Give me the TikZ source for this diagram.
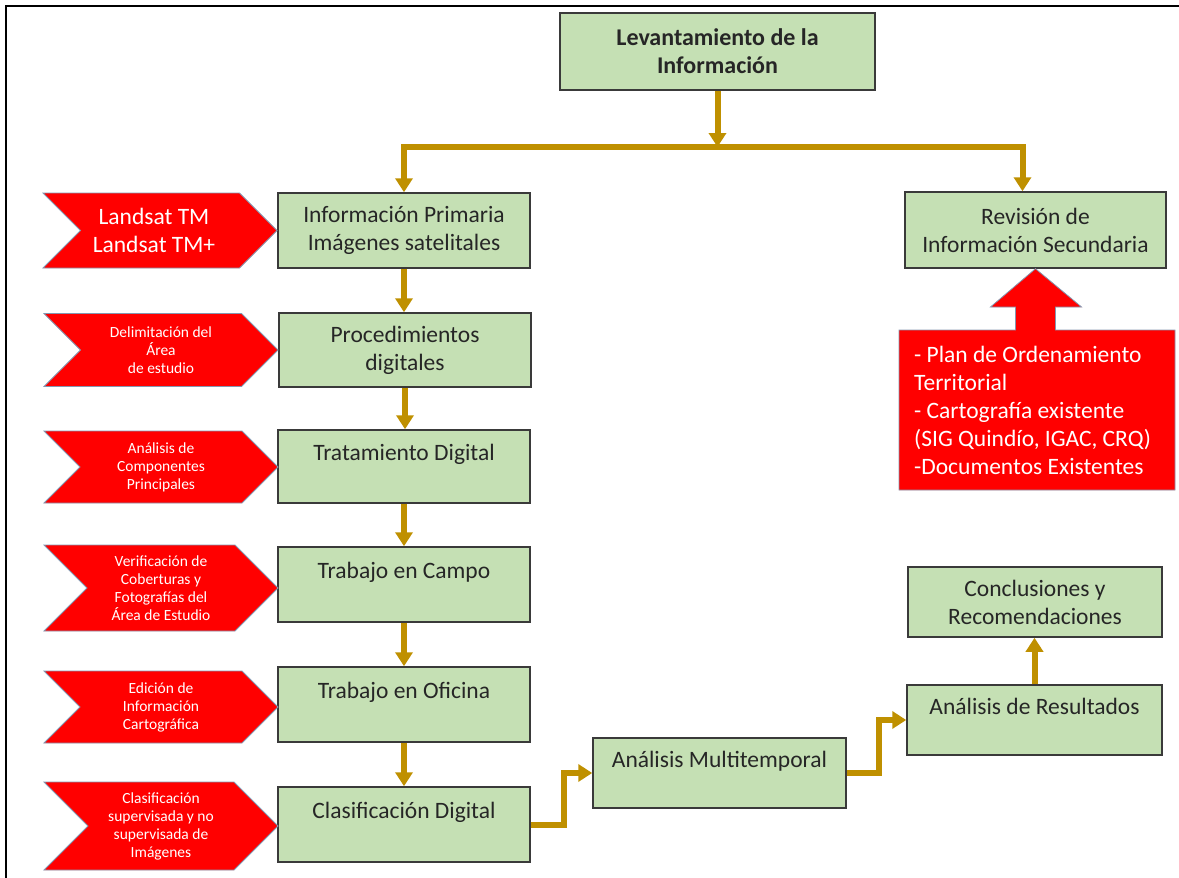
\documentclass[tikz,border=0pt]{standalone}
\usepackage{fontspec}
\setmainfont{Carlito}
\usetikzlibrary{arrows.meta,shapes.symbols}
\definecolor{boxgreen}{HTML}{C5E0B4}
\definecolor{boxline}{HTML}{3A3A3A}
\definecolor{flowgold}{HTML}{BF9000}
\definecolor{chevred}{HTML}{FF0000}
\definecolor{chevline}{HTML}{8497B0}

\begin{document}
\begin{tikzpicture}[x=1pt,y=-1pt]
    \tikzstyle{box}=[draw=boxline,fill=boxgreen,line width=1.5pt,minimum width=252pt,minimum height=75pt,inner sep=0pt,align=center,text=black!85,font=\fontsize{23.5}{28}\selectfont]
    \tikzstyle{chevron}=[signal,signal from=west,signal to=east,fill=chevred,draw=chevline,line width=0.8pt,minimum width=234pt,inner sep=0pt,align=center,text=white,font=\fontsize{15.5}{18}\selectfont]
    \tikzstyle{flow}=[draw=flowgold,line width=6pt,-{Triangle[length=14pt,width=17pt]}]
    \useasboundingbox (0,0) rectangle (1179,878);
    \draw[line width=2pt] (6,878) -- (6,6) -- (1179,6);

    % main boxes
    \node[box,minimum width=315pt,minimum height=77pt,font=\fontsize{24}{28}\selectfont\bfseries] (lev) at (717.5,51.5) {Levantamiento de la\\Información};
    \node[box] (prim) at (404,230.5) {Información Primaria\\Imágenes satelitales};
    \node[box,minimum width=261pt,minimum height=76pt] (rev) at (1035.5,230) {Revisión de\\Información Secundaria};
    \node[box,minimum height=74pt] (proc) at (405,350) {Procedimientos\\digitales};
    \node[box,minimum height=73pt] (trat) at (404,466.5) {Tratamiento Digital\\\mbox{}};
    \node[box] (campo) at (404,584.5) {Trabajo en Campo\\\mbox{}};
    \node[box] (ofic) at (404,704.5) {Trabajo en Oficina\\\mbox{}};
    \node[box] (clas) at (404,824.5) {Clasificación Digital\\\mbox{}};
    \node[box,minimum width=253pt,minimum height=70pt] (multi) at (719.5,773) {Análisis Multitemporal\\\mbox{}};
    \node[box,minimum width=255pt,minimum height=70pt] (res) at (1034.5,720) {Análisis de Resultados\\\mbox{}};
    \node[box,minimum width=254pt,minimum height=70pt] (concl) at (1035,602) {Conclusiones y\\Recomendaciones};

    % inputs
    \node[chevron,minimum height=75pt,font=\fontsize{23.5}{28}\selectfont] (landsat) at (160,230.5) {\hspace*{-12pt}Landsat TM\\\hspace*{-12pt}Landsat TM+};
    \foreach \name/\y/\h/\txt in {
        delim/350/73/{Delimitación del\\Área\\de estudio},
        acp/467/72/{Análisis de\\Componentes\\Principales},
        verif/588/86/{Verificación de\\Coberturas y\\Fotografías del\\Área de Estudio},
        edic/707/72/{Edición de\\Información\\Cartográfica},
        clasif/826/88/{Clasificación\\supervisada y no\\supervisada de\\Imágenes}}
        \node[chevron,minimum height=\h pt] (\name) at (161,\y) {\txt};

    % secondary sources
    \draw[fill=chevred,draw=chevline,line width=0.8pt] (899,330) -- (1015.5,330) -- (1015.5,307) -- (990.5,307) -- (rev.south)
        -- (1081.5,307) -- (1055.5,307) -- (1055.5,330) -- (1175,330) -- (1175,490) -- (899,490) -- cycle;
    \node[anchor=west,align=left,text=white,inner sep=0pt,font=\fontsize{23.5}{28}\selectfont] (fuentes) at (914,410)
        {- Plan de Ordenamiento\\Territorial\\- Cartografía existente\\(SIG Quindío, IGAC, CRQ)\\-Documentos Existentes};

    % flow
    \coordinate (split) at (717.5,147);
    \draw[flow] (lev) -- (split);
    \draw[flow] (split) -| (prim.north);
    \draw[flow] (split) -| ([xshift=-13pt]rev.north);
    \foreach \from/\to in {prim/proc, proc/trat, trat/campo, campo/ofic, ofic/clas}
        \draw[flow] (\from.south) -- (\from.south |- \to.north);
    \draw[flow] (clas.east) -- ++(33,0) |- (multi.west);
    \draw[flow] (multi.east) -- ++(32,0) |- (res.west);
    \draw[flow] (res.north) -- (res.north |- concl.south);
\end{tikzpicture}
\end{document}
